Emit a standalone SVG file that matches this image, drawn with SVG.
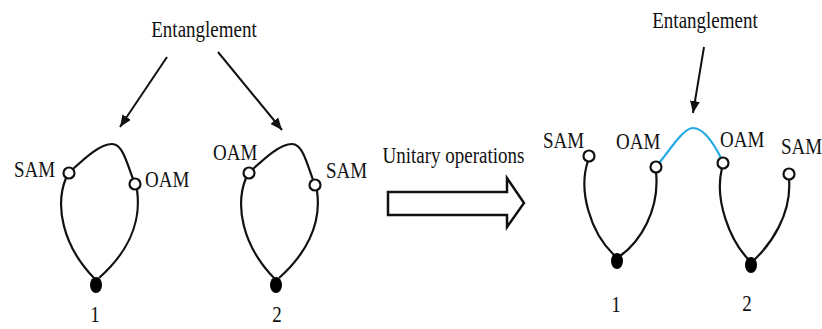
<svg xmlns="http://www.w3.org/2000/svg" width="822" height="329" viewBox="0 0 822 329">
<style>
.t{font-family:"Liberation Serif","Times New Roman",serif;font-size:19px;fill:#111}
.w{fill:none;stroke:#111;stroke-width:2.2}
.c{fill:#fff;stroke:#111;stroke-width:2.2}
.d{fill:#000}
.ar{fill:none;stroke:#111;stroke-width:2}
</style>
<defs>
<marker id="ah" viewBox="0 0 12 10" refX="12" refY="5" markerWidth="12" markerHeight="10" markerUnits="userSpaceOnUse" orient="auto">
<path d="M0,0 L12,5 L0,10 z" fill="#111"/>
</marker>
</defs>
<rect width="822" height="329" fill="#fff"/>

<g id="labels">
<text class="t" text-anchor="middle" transform="translate(204,37) scale(1,1.25)">Entanglement</text>
<text class="t" text-anchor="middle" transform="translate(705,28) scale(1,1.25)">Entanglement</text>
<text class="t" text-anchor="middle" transform="translate(453.5,163) scale(1,1.25)">Unitary operations</text>
</g>

<g id="connectors">
<line class="ar" x1="167" y1="57" x2="120" y2="127" marker-end="url(#ah)"/>
<line class="ar" x1="218" y1="52" x2="282" y2="130" marker-end="url(#ah)"/>
<line class="ar" x1="704" y1="47" x2="693" y2="113" marker-end="url(#ah)"/>
<polygon id="unitary-arrow" points="388,192 507,192 507,178 524,203 507,227 507,215 388,215" fill="#fff" stroke="#111" stroke-width="2.5" stroke-linejoin="miter"/>
<path d="M659,163 C670,150 683,128 693,128 C703,128 713,142 721,158" fill="none" stroke="#1fa8e4" stroke-width="2.2"/>
</g>

<g id="photon1-left">
<path class="w" d="M73,169 C85,158 100,144 112,144 C122,144 126,160 133,179"/>
<path class="w" d="M66,178 C55,205 62,245 94,278"/>
<path class="w" d="M137,190 C142,225 125,255 99,278"/>
<circle class="c" cx="69" cy="173" r="5.5"/>
<circle class="c" cx="135" cy="184" r="5.5"/>
<ellipse class="d" cx="96" cy="285" rx="6" ry="8"/>
<text class="t" transform="translate(14,177) scale(1,1.25)">SAM</text>
<text class="t" transform="translate(145,187) scale(1,1.25)">OAM</text>
<text class="t" text-anchor="middle" transform="translate(95,322) scale(1,1.25)">1</text>
</g>

<g id="photon2-left">
<path class="w" d="M253,169 C265,158 280,144 292,144 C302,144 306,160 313,180"/>
<path class="w" d="M246,178 C235,205 242,245 274,278"/>
<path class="w" d="M317,191 C322,225 305,255 279,278"/>
<circle class="c" cx="249" cy="173" r="5.5"/>
<circle class="c" cx="315" cy="185" r="5.5"/>
<ellipse class="d" cx="276" cy="285" rx="6" ry="8"/>
<text class="t" transform="translate(213,160) scale(1,1.25)">OAM</text>
<text class="t" transform="translate(326,178) scale(1,1.25)">SAM</text>
<text class="t" text-anchor="middle" transform="translate(277,322) scale(1,1.25)">2</text>
</g>

<g id="photon1-right">
<path class="w" d="M588,161 C578,190 590,232 614,255"/>
<path class="w" d="M656,172 C660,210 640,242 620,256"/>
<circle class="c" cx="589" cy="156" r="5.5"/>
<circle class="c" cx="656" cy="167" r="5.5"/>
<ellipse class="d" cx="617" cy="261" rx="6" ry="8"/>
<text class="t" transform="translate(543,148) scale(1,1.25)">SAM</text>
<text class="t" transform="translate(616,149) scale(1,1.25)">OAM</text>
<text class="t" text-anchor="middle" transform="translate(616,312) scale(1,1.25)">1</text>
</g>

<g id="photon2-right">
<path class="w" d="M722,168 C714,200 730,240 748,259"/>
<path class="w" d="M789,179 C792,215 770,245 754,260"/>
<circle class="c" cx="723" cy="163" r="5.5"/>
<circle class="c" cx="789" cy="174" r="5.5"/>
<ellipse class="d" cx="751" cy="265" rx="6" ry="8"/>
<text class="t" transform="translate(720,147) scale(1,1.25)">OAM</text>
<text class="t" transform="translate(781,154) scale(1,1.25)">SAM</text>
<text class="t" text-anchor="middle" transform="translate(747,311) scale(1,1.25)">2</text>
</g>
</svg>
